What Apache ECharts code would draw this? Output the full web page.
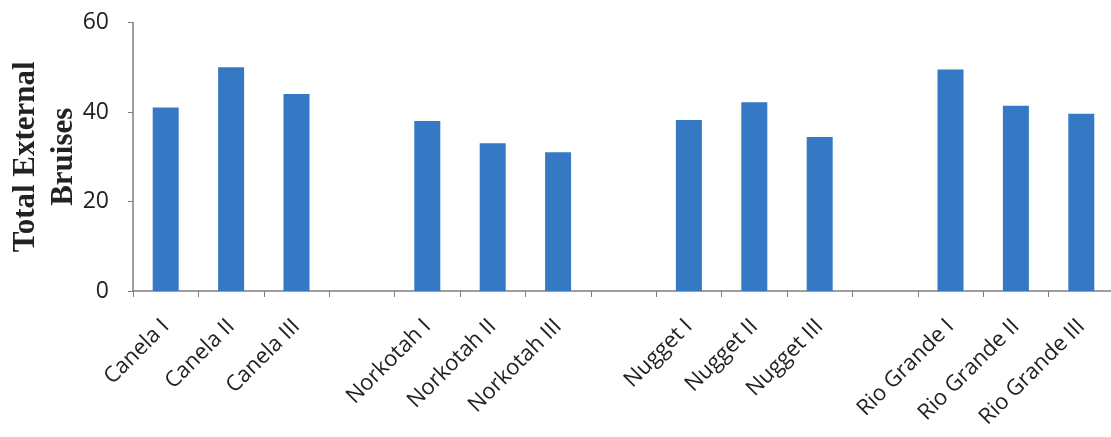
<!DOCTYPE html>
<html>
<head>
<meta charset="utf-8">
<script src="https://cdn.jsdelivr.net/npm/echarts@6/dist/echarts.min.js"></script>
<style>
html,body{margin:0;padding:0;background:#fff;}
#chart{width:1111px;height:437px;}
</style>
</head>
<body>
<div id="chart"></div>
<script>
const categories = ['Canela I','Canela II','Canela III','',
  'Norkotah I','Norkotah II','Norkotah III','',
  'Nugget I','Nugget II','Nugget III','',
  'Rio Grande I','Rio Grande II','Rio Grande III'];
const bruises = [41, 50, 44, null, 38, 33, 31, null, 38.2, 42.2, 34.4, null, 49.5, 41.4, 39.6];
const yTicks = [0, 20, 40, 60];
const yTitle = 'Total External\nBruises';

const chart = echarts.init(document.getElementById('chart'), null, {renderer:'canvas'});
chart.setOption({
  animation: false,
  backgroundColor: '#fff',
  grid: {left: 133, top: 22.5, right: -3, bottom: 146, containLabel: false, outerBoundsMode: 'none'},
  xAxis: {
    type: 'category',
    data: categories,
    boundaryGap: true,
    axisLine: {lineStyle: {color: '#7f7f7f', width: 1.5}},
    axisTick: {show: true, alignWithLabel: false, interval: 0, length: 6, lineStyle: {color: '#7f7f7f'}},
    axisLabel: {interval: 0, rotate: 45, margin: 32, fontFamily: 'Open Sans', fontSize: 22, color: '#222'}
  },
  yAxis: {
    type: 'value',
    min: yTicks[0], max: yTicks[yTicks.length-1], interval: 20,
    name: yTitle,
    nameLocation: 'middle',
    nameRotate: 90,
    nameGap: 50,
    nameMoveOverlap: false,
    nameTextStyle: {fontFamily: 'Liberation Serif', fontWeight: 'bold', fontSize: 31, color: '#222', lineHeight: 38},
    axisLine: {show: true, lineStyle: {color: '#7f7f7f', width: 1.5}},
    axisTick: {show: true, length: 5, lineStyle: {color: '#7f7f7f'}},
    splitLine: {show: false},
    axisLabel: {margin: 24, fontFamily: 'Open Sans', fontSize: 23, color: '#222'}
  },
  series: [{
    type: 'bar',
    data: bruises,
    barWidth: 26,
    itemStyle: {color: '#3578c4'}
  }]
});
</script>
</body>
</html>
